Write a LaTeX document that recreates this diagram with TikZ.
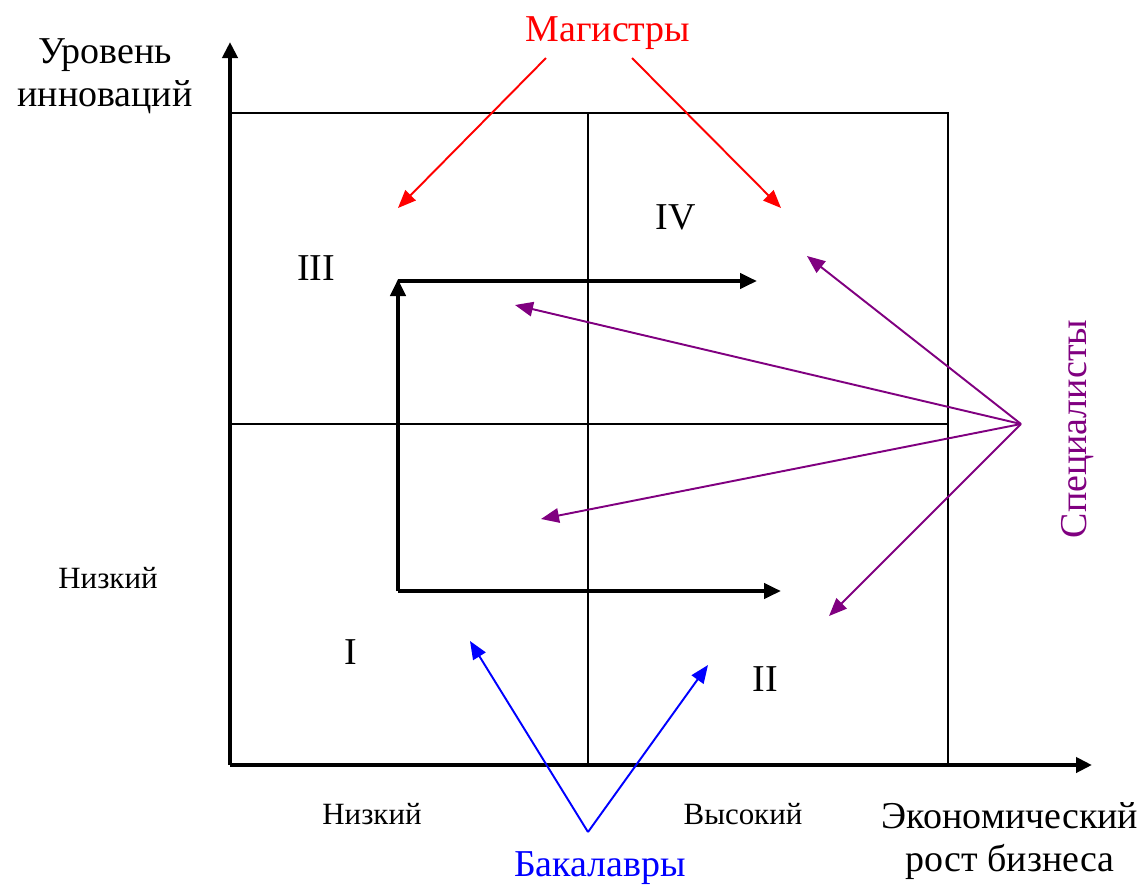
\documentclass[tikz,border=0pt]{standalone}
\usepackage{fontspec}
\setmainfont{Liberation Serif}
\usetikzlibrary{arrows.meta, positioning}
\definecolor{cred}{HTML}{FF0000}
\definecolor{cblue}{HTML}{0000FF}
\definecolor{cpurple}{HTML}{800080}
\tikzset{
  every picture/.style={x=0.02cm, y=-0.02cm},
  axis/.style={-{Triangle[length=3.2mm, width=3mm]}, line width=2.3pt},
  grid/.style={line width=1.1pt},
  route/.style={-{Triangle[length=3.4mm, width=3mm]}, line width=2.3pt},
  pointer/.style={-{Triangle[length=3.6mm, width=2.9mm]}, draw=#1, line width=1.1pt},
  big/.style={font=\fontsize{21.6}{24.5}\selectfont, inner sep=0pt, align=center},
  small/.style={font=\fontsize{17.6}{19}\selectfont, inner sep=0pt},
}

\begin{document}
\begin{tikzpicture}
  \useasboundingbox (0,0) rectangle (1137,887);
  \coordinate (o) at (230,765);
  \coordinate (ytip) at (230,42);
  \coordinate (xtip) at (1092,765);
  \draw[grid] (230,113) -- (948,113) -- (948,765);
  \draw[grid] (588,113) -- (588,765);
  \draw[grid] (230,424) -- (948,424);
  \draw[axis] (o) -- (ytip);
  \draw[axis] (o) -- (xtip);

  \node[big] (ylabel) at (105,76) {Уровень\\инноваций};
  \node[big] (xlabel) at (1010,841) {Экономический\\рост бизнеса};
  \node[small] (ylow) at (108,578) {Низкий};
  \node[small] (xlow) at (372,814) {Низкий};
  \node[small] (xhigh) at (743,814) {Высокий};

  \node[big] (q1) at (351,652) {I};
  \node[big] (q2) at (765,679) {II};
  \node[big] (q3) at (316,268) {III};
  \node[big] (q4) at (676,217) {IV};

  \coordinate (r0) at (398,591);
  \coordinate (r1) at (398,279);
  \coordinate (r2) at (398,281);
  \coordinate (r3) at (757,281);
  \coordinate (r4) at (781,591);
  \draw[route] (r0) -- (r1);
  \draw[route] (r2) -- (r3);
  \draw[route] (r0) -- (r4);

  \node[big, text=cred] (mag) at (608,33) {Магистры};
  \coordinate (m0) at (546,58);
  \coordinate (m1) at (632,58);
  \coordinate (ma) at (398,208);
  \coordinate (mb) at (781,208);
  \draw[pointer=cred] (m0) -- (ma);
  \draw[pointer=cred] (m1) -- (mb);

  \node[big, text=cpurple, rotate=90] (spec) at (1078,429) {Специалисты};
  \coordinate (s0) at (1021,424);
  \coordinate (sa) at (807,256);
  \coordinate (sb) at (515,305);
  \coordinate (sc) at (541,519);
  \coordinate (sd) at (829,616);
  \foreach \t in {sa, sb, sc, sd} \draw[pointer=cpurple] (s0) -- (\t);

  \node[big, text=cblue] (bak) at (600,868) {Бакалавры};
  \coordinate (b0) at (588,832);
  \coordinate (ba) at (470,641);
  \coordinate (bb) at (708,665);
  \draw[pointer=cblue] (b0) -- (ba);
  \draw[pointer=cblue] (b0) -- (bb);
\end{tikzpicture}
\end{document}
